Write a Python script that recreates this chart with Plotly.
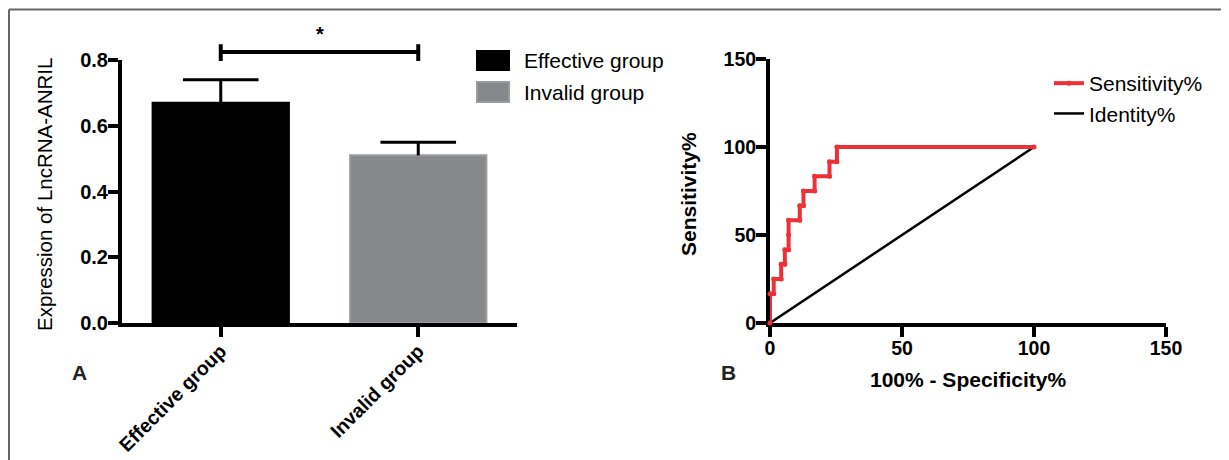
import plotly.graph_objects as go

# page body has an 8px margin, so the figure is sized to fit the 1229x460 window
OFF = 8
W, H = 1229 - OFF, 460 - OFF

# ---------------- data ----------------
groups = ["Effective group", "Invalid group"]
expression = [0.67, 0.51]
expression_err = [0.07, 0.04]
bar_colors = ["#000000", "#86888C"]
bar_line_colors = ["#000000", "#9A9B9E"]
y_ticks_a = [0.0, 0.2, 0.4, 0.6, 0.8]

roc_fpr = [0, 0, 1.41, 1.41, 4.23, 4.23, 5.63, 5.63, 7.04, 7.04, 7.04, 11.27, 11.27,
           12.68, 12.68, 16.9, 16.9, 22.54, 22.54, 25.35, 25.35, 100]
roc_sens = [0, 16.67, 16.67, 25, 25, 33.33, 33.33, 41.67, 41.67, 50, 58.33, 58.33, 66.67,
            66.67, 75, 75, 83.33, 83.33, 91.67, 91.67, 100, 100]
identity_x = [0, 100]
identity_y = [0, 100]
ticks_b = [0, 50, 100, 150]

FONT = "Liberation Sans, Arial, sans-serif"


def px_x(s):
    return (s - OFF) / W


def px_y(s):
    return 1 - (s - OFF) / H


def ydom(v):
    return v / 0.8


fig = go.Figure()

# Panel A bars (error bar stems upward only, no caps)
fig.add_trace(go.Bar(
    x=groups, y=expression,
    marker=dict(color=bar_colors, line=dict(color=bar_line_colors, width=2)),
    error_y=dict(type="data", symmetric=False, array=expression_err,
                 arrayminus=[0, 0], width=0, thickness=3, color="black"),
    width=0.69, showlegend=False, xaxis="x", yaxis="y",
))
# caps of the error bars
fig.add_trace(go.Scatter(
    x=groups, y=[v + e for v, e in zip(expression, expression_err)],
    mode="markers",
    marker=dict(symbol="line-ew", size=54, line=dict(color="black", width=3)),
    showlegend=False, xaxis="x", yaxis="y", cliponaxis=False, hoverinfo="skip",
))

# Panel B: identity line then ROC curve (drawn on top)
fig.add_trace(go.Scatter(
    x=identity_x, y=identity_y, mode="lines", name="Identity%",
    line=dict(color="black", width=2.5),
    xaxis="x2", yaxis="y2", cliponaxis=False, legend="legend2",
    legendgroup="i", legendrank=2,
))
fig.add_trace(go.Scatter(
    x=roc_fpr, y=roc_sens, mode="lines+markers", name="Sensitivity%",
    line=dict(color="#EC3237", width=4), marker=dict(size=5, color="#EC3237"),
    xaxis="x2", yaxis="y2", cliponaxis=False, legend="legend2",
    legendgroup="s", legendrank=1,
))

axis_common = dict(showline=True, linecolor="black", linewidth=4, ticks="outside",
                   tickwidth=4, tickcolor="black", showgrid=False, zeroline=False,
                   automargin=False)


def tfont(size):
    return dict(family=FONT, size=size, color="black", weight="bold")


fig.update_layout(
    template="none",
    width=W, height=H,
    margin=dict(l=0, r=0, t=0, b=0, autoexpand=False),
    paper_bgcolor="white", plot_bgcolor="white",
    font=dict(family=FONT, color="black"),
    showlegend=True,
    bargap=0.31,
    xaxis=dict(domain=[px_x(122), px_x(517)], range=[-0.5, 1.5], anchor="y",
               tickangle=-45, ticklen=10, tickfont=tfont(19.5), ticklabelstandoff=-5,
               **axis_common),
    yaxis=dict(domain=[px_y(323), px_y(60)], range=[0, 0.8], anchor="x",
               tickvals=y_ticks_a, tickformat=".1f", ticklen=10, tickfont=tfont(20),
               ticklabelstandoff=-4, **axis_common),
    xaxis2=dict(domain=[px_x(770), px_x(1166)], range=[0, 150], anchor="y2",
                tickvals=ticks_b, ticklen=10, layer="below traces", tickfont=tfont(19.5),
                ticklabelstandoff=-5, **axis_common),
    yaxis2=dict(domain=[px_y(323), px_y(59)], range=[0, 150], anchor="x2",
                tickvals=ticks_b, ticklen=10, layer="below traces", tickfont=tfont(19.5),
                ticklabelstandoff=-4, **axis_common),
    legend2=dict(x=px_x(1049), y=px_y(63), xanchor="left", yanchor="top",
                 bgcolor="rgba(0,0,0,0)", borderwidth=0, tracegroupgap=0,
                 traceorder="grouped",
                 font=dict(family=FONT, size=21, color="black")),
)

shapes = []
# outer frame (top and left edges)
shapes.append(dict(type="line", xref="paper", yref="paper", x0=px_x(9), x1=1.0,
                   y0=px_y(9.5), y1=px_y(9.5), line=dict(color="#666666", width=2)))
shapes.append(dict(type="line", xref="paper", yref="paper", x0=px_x(9), x1=px_x(9),
                   y0=px_y(9.5), y1=0, line=dict(color="#666666", width=2)))

# significance bracket
shapes.append(dict(type="line", xref="x", yref="y domain", x0=0, x1=1,
                   y0=ydom(0.824), y1=ydom(0.824), line=dict(color="black", width=4)))
for xc in [0, 1]:
    shapes.append(dict(type="line", xref="x", yref="y domain", x0=xc, x1=xc,
                       y0=ydom(0.797), y1=ydom(0.848), line=dict(color="black", width=4)))

# manual legend for panel A
leg_rows = [(51, 70), (82, 102)]
for (t, b), col, lc in zip(leg_rows, bar_colors, bar_line_colors):
    shapes.append(dict(type="rect", xref="paper", yref="paper",
                       x0=px_x(477), x1=px_x(509), y0=px_y(b), y1=px_y(t),
                       fillcolor=col, line=dict(color=lc, width=2)))
fig.update_layout(shapes=shapes)

ann = []
for (t, b), g in zip(leg_rows, groups):
    ann.append(dict(xref="paper", yref="paper", x=px_x(522), y=px_y((t + b) / 2),
                    text=g, showarrow=False, xanchor="left", yanchor="middle",
                    font=dict(family=FONT, size=21, color="black")))
ann.append(dict(xref="x", yref="y domain", x=0.5, y=ydom(0.88), text="*", showarrow=False,
                xanchor="center", yanchor="middle",
                font=dict(family=FONT, size=20, color="black", weight="bold")))
ann.append(dict(xref="paper", yref="paper", x=px_x(45), y=px_y(195),
                text="Expression of LncRNA-ANRIL", textangle=-90, showarrow=False,
                xanchor="center", yanchor="middle",
                font=dict(family=FONT, size=20.5, color="black")))
ann.append(dict(xref="paper", yref="paper", x=px_x(79), y=px_y(372), text="A",
                showarrow=False, xanchor="center", yanchor="middle",
                font=dict(family=FONT, size=21, color="#222222", weight="bold")))
ann.append(dict(xref="paper", yref="paper", x=px_x(728), y=px_y(372), text="B",
                showarrow=False, xanchor="center", yanchor="middle",
                font=dict(family=FONT, size=21, color="#222222", weight="bold")))
ann.append(dict(xref="paper", yref="paper", x=px_x(968), y=px_y(379),
                text="100% - Specificity%", showarrow=False,
                xanchor="center", yanchor="middle",
                font=dict(family=FONT, size=21, color="black", weight="bold")))
ann.append(dict(xref="paper", yref="paper", x=px_x(688), y=px_y(194),
                text="Sensitivity%", textangle=-90, showarrow=False,
                xanchor="center", yanchor="middle",
                font=dict(family=FONT, size=21, color="black", weight="bold")))
fig.update_layout(annotations=ann)

fig.write_html("out.html")
